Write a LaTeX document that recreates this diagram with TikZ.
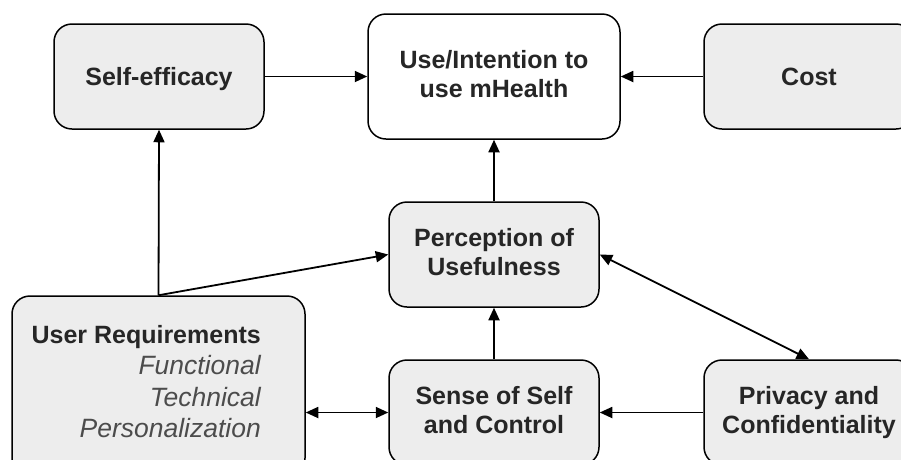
\documentclass[tikz,border=0pt]{standalone}
\usepackage{fontspec}
\setmainfont{Liberation Sans}
\usetikzlibrary{arrows.meta,positioning}

% strut that centres the capitals of a line
\newcommand{\capstrut}{\rule[-5.55pt]{0pt}{29pt}}

\begin{document}
\begin{tikzpicture} [x=1pt, y=-1pt,
    factor/.style={draw=black, line width=1.5pt, rounded corners=18pt, fill=black!7, minimum width=210pt, minimum height=105pt, align=center, inner sep=0pt, text=black!85, font=\fontsize{25}{29}\selectfont\bfseries, execute at begin node=\capstrut, execute at end node=\capstrut},
    link/.style={line width=1.8pt, -{Triangle[width=11pt,length=12.5pt]}},
    twolink/.style={line width=1.8pt, {Triangle[width=11pt,length=12.5pt]}-{Triangle[width=11pt,length=12.5pt]}}
  ]

\useasboundingbox (0,0) rectangle (901,459);
\clip (0,0) rectangle (901,459);

% top row
\node[factor] (selfeff) at (159,76.5) {Self-efficacy};
\node[factor, fill=white, minimum width=252pt, minimum height=125pt] (use) at (494,76.5) {Use/Intention to\\use mHealth};
\node[factor] (cost) at (809,76.5) {Cost};

% middle and bottom row
\node[factor] (percept) at (494,254.5) {Perception of\\Usefulness};
\node[factor] (sense) at (494,412.5) {Sense of Self\\and Control};
\node[factor] (privacy) at (809,412.5) {Privacy and\\Confidentiality};

\node[factor, minimum width=293pt, minimum height=180pt] (userreq) at (158.5,386) {};
\node[anchor=north east, inner sep=0pt, align=right, text=black!85, font=\fontsize{25}{31.5}\selectfont] (userreqtext) at (261,325)
    {\textbf{User Requirements}\\
     {\fontsize{26.5}{31.5}\selectfont\color{black!70}\itshape Functional}\\
     {\fontsize{26.5}{31.5}\selectfont\color{black!70}\itshape Technical}\\
     {\fontsize{26.5}{31.5}\selectfont\color{black!70}\itshape Personalization}};

% connectors
\draw[link] (selfeff) -- (use);
\draw[link] (cost) -- (use);
\draw[link] (percept) -- (use);
\draw[link] (sense) -- (percept);
\draw[link] (privacy) -- (sense);
\draw[twolink] (userreq.east |- sense.west) -- (sense.west);
\draw[link] (userreq.north) -- (selfeff.south);
\draw[link] (userreq.north) -- (percept.west);
\draw[twolink] (percept.east) -- (privacy.north);

\end{tikzpicture}
\end{document}
